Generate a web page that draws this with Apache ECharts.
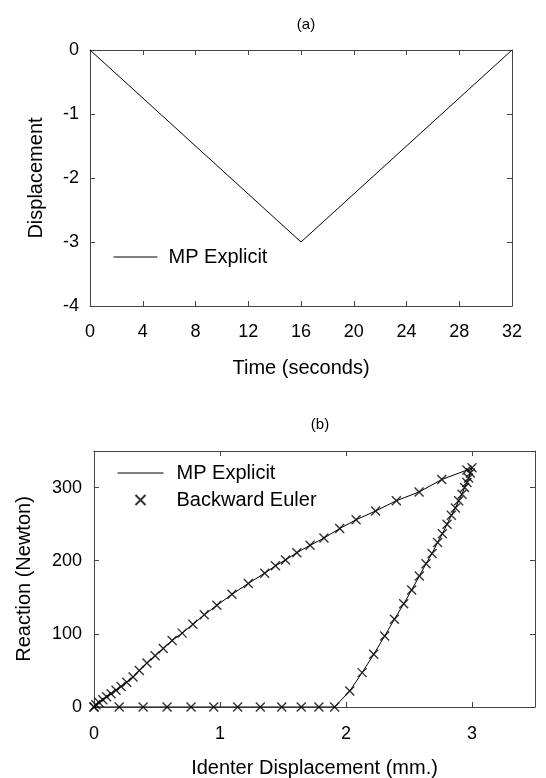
<!DOCTYPE html>
<html>
<head>
<meta charset="utf-8">
<script src="https://cdn.jsdelivr.net/npm/echarts@6/dist/echarts.min.js"></script>
<style>
    html, body { margin: 0; padding: 0; background: #fff; }
    #chart { width: 546px; height: 778px; }
</style>
</head>
<body>
<div id="chart"></div>
<script>
    // (a) prescribed displacement
    var timeSec = [0, 16, 32];
    var dispA = [0, -3, 0];

    // (b) reaction vs identer displacement, loading then unloading
    var identerDisp = [
        0, 0.015, 0.04, 0.07, 0.10, 0.135, 0.175, 0.215, 0.26, 0.31, 0.36, 0.42,
        0.485, 0.55, 0.62, 0.70, 0.785, 0.875, 0.975, 1.095, 1.225, 1.355, 1.44,
        1.52, 1.61, 1.715, 1.825, 1.95, 2.08, 2.235, 2.40, 2.58, 2.76, 2.96, 3.0,
        2.987, 2.973, 2.96, 2.941, 2.921, 2.894, 2.868, 2.836, 2.802, 2.765, 2.727,
        2.683, 2.635, 2.582, 2.521, 2.458, 2.384, 2.307, 2.22, 2.128, 2.03, 1.91,
        1.785, 1.645, 1.49, 1.32, 1.14, 0.95, 0.77, 0.58, 0.39, 0.20, 0
    ];
    var reaction = [
        0, 3, 6, 10, 14, 18, 23, 28, 34, 41, 50, 60,
        70, 80, 91, 101, 113, 126, 139, 154, 169, 183, 193,
        201, 211, 221, 231, 244, 256, 268, 282, 294, 311, 324, 327,
        320, 313, 307, 300, 291, 282, 272, 262, 250, 237, 225,
        210, 196, 179, 160, 141, 120, 97, 72, 47, 22, 0,
        0, 0, 0, 0, 0, 0, 0, 0, 0, 0, 0
    ];

    function zip(xs, ys) {
        let out = [];
        for (let i = 0; i < xs.length; i++) out.push([xs[i], ys[i]]);
        return out;
    }

    let font = 'Liberation Sans, Arial, sans-serif';
    let axisColor = '#444';
    let crossMark = 'path://M0,0L10,10M10,0L0,10';

    // frame axes with inward ticks, labels hidden
    function frameAxis(gridIndex, min, max, interval, pos) {
        return {
            gridIndex: gridIndex, type: 'value', min: min, max: max, interval: interval,
            position: pos,
            axisLine: { show: true, onZero: false, lineStyle: { color: axisColor, width: 1 } },
            axisTick: { show: true, inside: true, length: 5, lineStyle: { color: axisColor } },
            axisLabel: { show: false },
            splitLine: { show: false }
        };
    }

    function mainAxis(gridIndex, min, max, interval, pos, name, nameGap, margin, showMax) {
        return {
            gridIndex: gridIndex, type: 'value', min: min, max: max, interval: interval,
            position: pos,
            name: name, nameLocation: 'middle', nameGap: nameGap,
            nameTextStyle: { color: '#000', fontSize: 20, fontFamily: font },
            axisLine: { show: true, onZero: false, lineStyle: { color: axisColor, width: 1 } },
            axisTick: { show: true, inside: true, length: 5, lineStyle: { color: axisColor } },
            axisLabel: { color: '#000', fontSize: 18, fontFamily: font, margin: margin,
                         showMaxLabel: showMax },
            splitLine: { show: false }
        };
    }

    let chart = echarts.init(document.getElementById('chart'));
    let option = {
        backgroundColor: '#fff',
        animation: false,
        title: [
            { text: '(a)', left: 301, top: 12, textAlign: 'center',
              textStyle: { fontSize: 15, fontWeight: 'normal', color: '#000', fontFamily: font } },
            { text: '(b)', left: 315, top: 412, textAlign: 'center',
              textStyle: { fontSize: 15, fontWeight: 'normal', color: '#000', fontFamily: font } }
        ],
        grid: [
            { left: 90, top: 50, width: 422, height: 256, outerBoundsMode: 'none' },
            { left: 94, top: 451, width: 441, height: 256, outerBoundsMode: 'none' }
        ],
        legend: [
            {
                data: [{ name: 'MP Explicit', itemStyle: { opacity: 0 } }],
                left: 108, top: 242,
                itemWidth: 44, itemHeight: 14,
                lineStyle: { width: 1 },
                textStyle: { fontSize: 20, color: '#000', fontFamily: font, padding: [0, 0, 0, 6] }
            },
            {
                data: [{ name: 'MP Explicit ', itemStyle: { opacity: 0 } }, 'Backward Euler'],
                orient: 'vertical',
                left: 112, top: 458,
                itemWidth: 46, itemHeight: 10, itemGap: 7,
                lineStyle: { width: 1 },
                textStyle: { fontSize: 20, color: '#000', fontFamily: font, padding: [0, 0, 0, 8] }
            }
        ],
        xAxis: [
            mainAxis(0, 0, 32, 4, 'bottom', 'Time (seconds)', 52, 17, true),
            frameAxis(0, 0, 32, 4, 'top'),
            mainAxis(1, 0, 3.5, 1, 'bottom', 'Identer Displacement (mm.)', 51, 18, false),
            frameAxis(1, 0, 3.5, 1, 'top')
        ],
        yAxis: [
            mainAxis(0, -4, 0, 1, 'left', 'Displacement', 44, 11, true),
            frameAxis(0, -4, 0, 1, 'right'),
            mainAxis(1, 0, 350, 100, 'left', 'Reaction (Newton)', 60, 12, false),
            frameAxis(1, 0, 350, 100, 'right')
        ],
        series: [
            {
                name: 'MP Explicit', type: 'line',
                xAxisIndex: 0, yAxisIndex: 0,
                data: zip(timeSec, dispA),
                symbol: 'none', lineStyle: { color: '#000', width: 1 },
                itemStyle: { color: '#000' }
            },
            {
                name: 'MP Explicit ', type: 'line',
                xAxisIndex: 2, yAxisIndex: 2,
                data: zip(identerDisp, reaction),
                symbol: 'none', lineStyle: { color: '#000', width: 1 },
                itemStyle: { color: '#000' }
            },
            {
                name: 'Backward Euler', type: 'scatter',
                xAxisIndex: 2, yAxisIndex: 2,
                data: zip(identerDisp, reaction),
                symbol: crossMark, symbolSize: 9,
                itemStyle: { color: 'none', borderColor: '#000', borderWidth: 1.4 }
            }
        ]
    };
    chart.setOption(option);
</script>
</body>
</html>
